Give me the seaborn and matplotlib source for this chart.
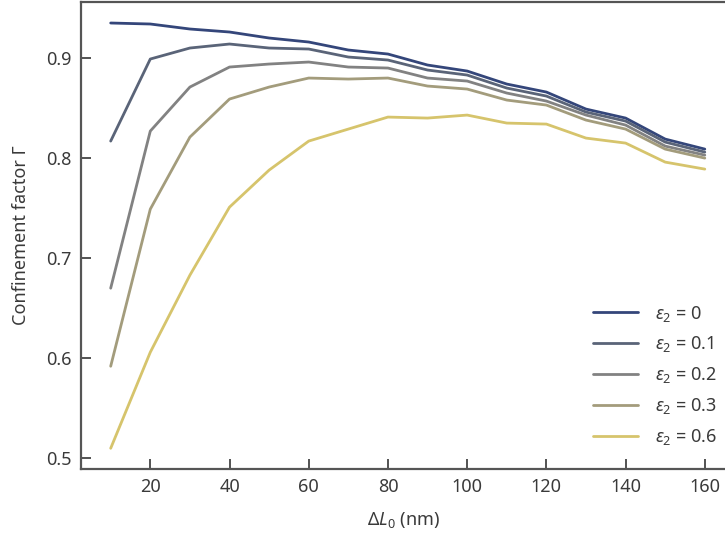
import numpy as np
import pandas as pd
import matplotlib
matplotlib.use("Agg")
import matplotlib.pyplot as plt
import seaborn as sns

dL0 = [10, 20, 30, 40, 50, 60, 70, 80, 90, 100, 110, 120, 130, 140, 150, 160]
eps_labels = ["0", "0.1", "0.2", "0.3", "0.6"]
g_eps0 = [0.935, 0.934, 0.929, 0.926, 0.920, 0.916, 0.908, 0.904, 0.893, 0.887, 0.874, 0.866, 0.849, 0.840, 0.819, 0.809]
g_eps01 = [0.817, 0.899, 0.910, 0.914, 0.910, 0.909, 0.901, 0.898, 0.888, 0.883, 0.870, 0.862, 0.846, 0.837, 0.816, 0.806]
g_eps02 = [0.670, 0.827, 0.871, 0.891, 0.894, 0.896, 0.891, 0.890, 0.880, 0.877, 0.865, 0.857, 0.843, 0.833, 0.812, 0.803]
g_eps03 = [0.592, 0.749, 0.821, 0.859, 0.871, 0.880, 0.879, 0.880, 0.872, 0.869, 0.858, 0.853, 0.838, 0.829, 0.809, 0.800]
g_eps06 = [0.510, 0.606, 0.683, 0.751, 0.788, 0.817, 0.829, 0.841, 0.840, 0.843, 0.835, 0.834, 0.820, 0.815, 0.796, 0.789]
colors = ["#34467a", "#5a6478", "#828282", "#a39c7c", "#d6c46c"]

series = [g_eps0, g_eps01, g_eps02, g_eps03, g_eps06]
rows = []
for lab, vals in zip(eps_labels, series):
    for x, v in zip(dL0, vals):
        rows.append({"dL0": x, "gamma": v, "eps": r"$\varepsilon_2$ = " + lab})
df = pd.DataFrame(rows)
hue_order = [r"$\varepsilon_2$ = " + l for l in eps_labels]

sns.set_theme(style="white")
plt.rcParams["font.family"] = ["Noto Sans", "DejaVu Sans"]
plt.rcParams["mathtext.fontset"] = "custom"
plt.rcParams["mathtext.rm"] = "Noto Sans"
plt.rcParams["mathtext.it"] = "Noto Sans:italic"
plt.rcParams["mathtext.bf"] = "Noto Sans:bold"

txt = "#3a3a3a"
fig = plt.figure(figsize=(7.25, 5.39), dpi=100)
ax = fig.add_axes([0.1117, 0.1304, 0.8883, 0.8659])

sns.lineplot(data=df, x="dL0", y="gamma", hue="eps", hue_order=hue_order,
             palette=colors, linewidth=2.0, ax=ax, legend=True)

ax.set_xlim(2.5, 165.1)
ax.set_ylim(0.4896, 0.956)
ax.set_xticks([20, 40, 60, 80, 100, 120, 140, 160])
ax.set_yticks([0.5, 0.6, 0.7, 0.8, 0.9])
ax.set_yticklabels(["0.5", "0.6", "0.7", "0.8", "0.9"])
ax.tick_params(bottom=True, left=True, top=False, right=False,
               direction="in", length=7, width=1.3, colors="#444444",
               labelcolor=txt, labelsize=13, pad=7)
for s in ["left", "bottom", "top"]:
    ax.spines[s].set_color("#555555")
    ax.spines[s].set_linewidth(1.6)
ax.spines["right"].set_visible(False)

ax.set_xlabel(r"$\Delta L_0$ (nm)", fontsize=13, color=txt, labelpad=10)
ax.set_ylabel("Confinement factor Γ", fontsize=13, color=txt, labelpad=11)

leg = ax.legend(loc="lower right", frameon=False, fontsize=13,
                handlelength=2.5, handletextpad=0.9, labelspacing=0.6,
                bbox_to_anchor=(1.012, 0.012))
for t in leg.get_texts():
    t.set_color(txt)

fig.savefig("out.png", dpi=100)
